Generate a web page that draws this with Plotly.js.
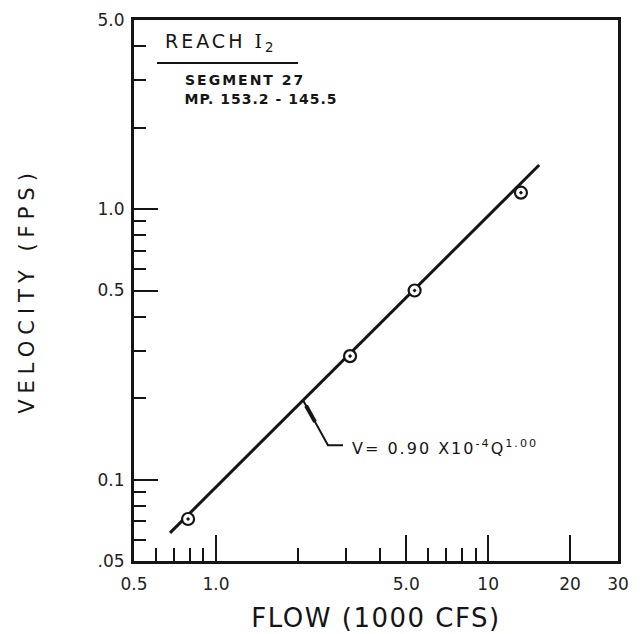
<!DOCTYPE html>
<html>
<head>
<meta charset="utf-8">
<script src="https://cdn.plot.ly/plotly-3.0.1.min.js"></script>
<style>
  html, body { margin: 0; padding: 0; background: #fff; }
  #chart { width: 642px; height: 634px; }
  .ytitle { letter-spacing: 6px; }
  .xtitle { letter-spacing: 1.5px; }
  .annotation[data-index="0"] .annotation-text { letter-spacing: 3px; }
  .annotation[data-index="1"] .annotation-text { letter-spacing: 2px; }
  .annotation[data-index="2"] .annotation-text { letter-spacing: 1px; }
  .annotation[data-index="3"] .annotation-text { letter-spacing: 2px; }
</style>
</head>
<body>
<div id="chart"></div>
<script>
// Observed data points: flow (1000 cfs) and velocity (fps)
const flowObs = [0.79, 3.11, 5.37, 13.2];
const velObs = [0.0715, 0.286, 0.50, 1.15];

// Fitted relation V = 0.90 x 10^-4 Q^1.00 (drawn segment ends)
const flowFit = [0.678, 15.4];
const velFit = [0.0635, 1.455];

// Axis tick values and labels
const xTickVals = [0.5, 1, 5, 10, 20, 30];
const xTickText = ['0.5', '1.0', '5.0', '10', '20', '30'];
const xMinorVals = [0.6, 0.7, 0.8, 0.9, 2, 3, 4, 6, 7, 8, 9];
const yTickVals = [0.05, 0.1, 0.5, 1, 5];
const yTickText = ['.05', '0.1', '0.5', '1.0', '5.0'];
const yMinorVals = [0.06, 0.07, 0.08, 0.09, 0.2, 0.3, 0.4, 0.6, 0.7, 0.8, 0.9, 2, 3, 4];

// Leader line for the equation label (junction on fit line, bend, end)
const leaderFlow = [2.09, 2.58, 2.93];
const slope = Math.log(velFit[1] / velFit[0]) / Math.log(flowFit[1] / flowFit[0]);
const vJunction = velFit[0] * Math.pow(leaderFlow[0] / flowFit[0], slope);
const leaderVel = [vJunction, 0.134, 0.134];
function lerpLog(a, b, t) { return Math.exp(Math.log(a) + (Math.log(b) - Math.log(a)) * t); }
const thickFlow = [lerpLog(leaderFlow[0], leaderFlow[1], 0.12), lerpLog(leaderFlow[0], leaderFlow[1], 0.48)];
const thickVel = [lerpLog(leaderVel[0], leaderVel[1], 0.12), lerpLog(leaderVel[0], leaderVel[1], 0.48)];

const INK = '#151515';
const FONT = 'DejaVu Sans, sans-serif';

const traces = [
  { x: flowFit, y: velFit, mode: 'lines', line: { color: INK, width: 3 }, hoverinfo: 'skip', showlegend: false },
  { x: leaderFlow, y: leaderVel, mode: 'lines', line: { color: INK, width: 2 }, hoverinfo: 'skip', showlegend: false },
  { x: thickFlow, y: thickVel, mode: 'lines', line: { color: INK, width: 4 }, hoverinfo: 'skip', showlegend: false },
  { x: flowObs, y: velObs, mode: 'markers',
    marker: { symbol: 'circle-dot', size: 12, color: '#fff', line: { color: INK, width: 2.2 } },
    showlegend: false }
];

const layout = {
  width: 642, height: 634,
  margin: { l: 134, r: 24, t: 20, b: 73 },
  paper_bgcolor: '#fff', plot_bgcolor: '#fff',
  font: { family: FONT, color: INK },
  showlegend: false,
  xaxis: {
    type: 'log',
    range: [Math.log10(0.5), Math.log10(30)],
    tickmode: 'array', tickvals: xTickVals, ticktext: xTickText,
    ticks: 'inside', ticklen: 26, tickwidth: 2, tickcolor: INK,
    minor: { tickmode: 'array', tickvals: xMinorVals, ticks: 'inside', ticklen: 13, tickwidth: 2, tickcolor: INK, showgrid: false },
    showline: true, linewidth: 3, linecolor: INK, mirror: true,
    showgrid: false, zeroline: false,
    tickfont: { family: FONT, size: 17, color: '#222' },
    ticklabelstandoff: 6,
    title: { text: 'FLOW (1000 CFS)', font: { family: FONT, size: 26, color: INK }, standoff: 16 }
  },
  yaxis: {
    type: 'log',
    range: [Math.log10(0.05), Math.log10(5)],
    tickmode: 'array', tickvals: yTickVals, ticktext: yTickText,
    ticks: 'inside', ticklen: 24, tickwidth: 2, tickcolor: INK,
    minor: { tickmode: 'array', tickvals: yMinorVals, ticks: 'inside', ticklen: 12, tickwidth: 2, tickcolor: INK, showgrid: false },
    showline: true, linewidth: 3, linecolor: INK, mirror: true,
    showgrid: false, zeroline: false,
    tickfont: { family: FONT, size: 17, color: '#222' },
    ticklabelstandoff: 3,
    title: { text: 'VELOCITY (FPS)', font: { family: FONT, size: 21, color: INK }, standoff: 58 }
  },
  shapes: [
    { type: 'line', xref: 'paper', yref: 'paper', x0: 0.0475, x1: 0.339, y0: 0.9205, y1: 0.9205,
      line: { color: INK, width: 2 } }
  ],
  annotations: [
    { xref: 'paper', yref: 'paper', x: 0.084, y: 0.9575, xanchor: 'left', yanchor: 'middle', showarrow: false,
      text: "REACH <span style='font-family:DejaVu Serif'>I</span><sub>2</sub>",
      font: { family: FONT, size: 19, color: INK } },
    { xref: 'paper', yref: 'paper', x: 0.122, y: 0.889, xanchor: 'left', yanchor: 'middle', showarrow: false,
      text: '<b>SEGMENT 27</b>', font: { family: FONT, size: 14, color: INK } },
    { xref: 'paper', yref: 'paper', x: 0.118, y: 0.854, xanchor: 'left', yanchor: 'middle', showarrow: false,
      text: '<b>MP. 153.2 - 145.5</b>', font: { family: FONT, size: 14, color: INK } },
    { xref: 'x', yref: 'y', x: Math.log10(3.62), y: Math.log10(0.131), xanchor: 'left', yanchor: 'middle', showarrow: false,
      text: 'V= 0.90 X10<sup>-4</sup>Q<sup>1.00</sup>', font: { family: FONT, size: 16, color: INK } }
  ]
};

Plotly.newPlot('chart', traces, layout, { staticPlot: true, displayModeBar: false });
</script>
</body>
</html>
